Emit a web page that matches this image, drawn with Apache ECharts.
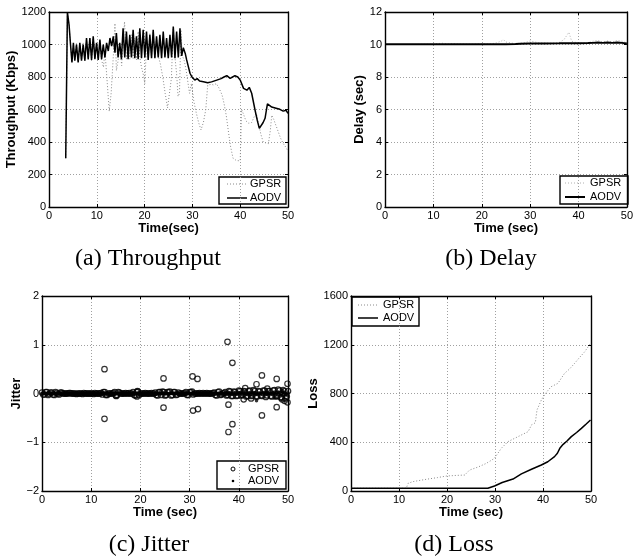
<!DOCTYPE html>
<html>
<head>
<meta charset="utf-8">
<script src="https://cdn.jsdelivr.net/npm/echarts@6/dist/echarts.min.js"></script>
<style>
  html, body { margin: 0; padding: 0; background: #fff; }
  #chart { width: 636px; height: 559px; }
</style>
</head>
<body>
<div id="chart"></div>
<script>
// ---------- (a) Throughput, Kbps ----------
const thrGpsrTime = [3.5,3.85,4.2,4.5,4.8,5.1,5.4,5.75,6.1,6.45,6.8,7.15,7.5,7.85,8.2,8.55,8.9,9.25,9.6,9.95,10.3,10.65,11.0,11.4,11.7,12.1,12.6,13.0,13.4,13.8,14.1,14.45,14.8,15.2,15.8,16.2,16.55,16.9,17.25,17.6,17.95,18.3,18.65,19.0,19.35,19.7,20.05,20.4,20.75,21.1,21.45,21.8,22.15,22.5,22.85,23.3,23.8,24.3,24.8,25.2,25.6,26.0,26.35,26.7,27.0,27.3,27.6,27.9,28.3,28.7,29.0,29.4,29.8,30.3,30.8,31.3,31.8,32.3,32.8,33.2,33.6,34.0,34.5,35.0,35.6,36.2,36.6,37.1,37.6,38.0,38.5,39.0,39.5,40.0,40.3,40.7,41.2,41.8,42.4,43.0,43.4,43.8,44.3,44.8,45.3,45.9,46.3,46.6,47.0,47.5,48.0,48.5,49.0,49.5,50.0];
const thrGpsrValue = [300,1200,1120,1000,890,1000,905,1010,895,1000,905,1010,900,1030,905,1040,900,1040,915,1000,910,1020,905,860,960,800,590,700,900,1130,840,900,1000,870,1140,910,1000,910,1060,915,1040,905,1080,920,860,820,760,1000,920,1070,920,1080,915,1040,930,880,800,700,610,700,790,1100,920,820,680,700,1090,930,900,840,780,700,760,650,580,520,475,520,600,750,745,755,750,760,730,690,640,560,450,370,300,290,285,285,600,570,530,515,520,560,575,520,450,400,395,390,470,565,540,500,460,420,390,370,345];
const thrAodvTime = [3.5,3.85,4.2,4.5,4.8,5.1,5.4,5.75,6.1,6.45,6.8,7.15,7.5,7.85,8.2,8.55,8.9,9.25,9.6,9.95,10.3,10.65,11.0,11.35,11.7,12.05,12.4,12.75,13.1,13.45,13.8,14.1,14.45,14.8,15.15,15.5,15.85,16.2,16.55,16.9,17.25,17.6,17.95,18.3,18.65,19.0,19.35,19.7,20.05,20.4,20.75,21.1,21.45,21.8,22.15,22.5,22.85,23.2,23.55,23.9,24.25,24.6,24.95,25.3,25.65,26.0,26.35,26.7,27.05,27.4,27.75,28.1,28.5,28.8,29.1,29.5,29.9,30.5,31.0,31.5,32.3,33.2,34.0,35.1,36.0,36.6,37.2,37.9,38.4,38.9,39.5,40.0,40.7,41.4,41.9,42.4,43.1,43.6,44.0,44.4,44.8,45.2,45.5,45.7,46.0,46.6,47.5,48.3,49.0,49.6,50.0];
const thrAodvValue = [300,1200,1120,1000,890,1010,900,1000,890,1010,900,1000,900,1040,910,1040,905,1050,910,1010,905,1030,910,1000,920,1010,960,1040,990,1050,950,1070,920,1010,910,1100,920,1080,910,1060,920,1090,915,1050,910,1100,915,1090,920,1080,905,1060,915,1090,915,1050,920,1060,915,1080,920,1040,915,1060,920,1110,915,1080,920,1100,930,980,945,905,870,823,800,781,790,775,771,765,770,781,790,800,808,792,800,808,800,781,730,719,736,700,597,530,484,495,520,546,600,634,625,615,608,601,590,595,576];

// ---------- (b) Delay, sec ----------
const delayGpsrTime = [0,5,10,11,12,13,14,15,18,20,22,23,24,24.5,25,26,27,28,29,30,31,32,33,34,35,36,37,38,38.6,39,40,41,42,43,44,45,46,47,48,49,50];
const delayGpsrValue = [10.0,10.0,10.02,10.06,10.08,10.03,10.06,10.04,10.02,10.05,10.04,10.1,10.2,10.3,10.15,10.1,10.05,10.08,10.12,10.22,10.15,10.1,10.12,10.08,10.1,10.12,10.3,10.75,10.2,10.1,10.08,10.1,10.12,10.2,10.25,10.15,10.22,10.15,10.25,10.2,10.1];
const delayAodvTime = [0,5,10,15,20,25,27,28,30,33,36,38,40,42,43,44,45,46,47,48,49,50];
const delayAodvValue = [10.02,10.02,10.02,10.02,10.02,10.02,10.03,10.05,10.06,10.06,10.07,10.08,10.08,10.09,10.1,10.12,10.1,10.12,10.1,10.13,10.1,10.06];

// ---------- (c) Jitter ----------
const jitterTime = [0,0.5,1,1.5,2,2.5,3,3.5,4,4.5,5,5.5,6,6.5,7,7.5,8,8.5,9,9.5,10,10.5,11,11.5,12,12.5,13,13.5,14,14.5,15,15.5,16,16.5,17,17.5,18,18.5,19,19.5,20,20.5,21,21.5,22,22.5,23,23.5,24,24.5,25,25.5,26,26.5,27,27.5,28,28.5,29,29.5,30,30.5,31,31.5,32,32.5,33,33.5,34,34.5,35,35.5,36,36.5,37,37.5,38,38.5,39,39.5,40,40.5,41,41.5,42,42.5,43,43.5,44,44.5,45,45.5,46,46.5,47,47.5,48,48.5,49,49.5,50];
const jitterTimeMid = [0.25,0.75,1.25,1.75,2.25,2.75,3.25,3.75,4.25,4.75,5.25,5.75,6.25,6.75,7.25,7.75,8.25,8.75,9.25,9.75,10.25,10.75,11.25,11.75,12.25,12.75,13.25,13.75,14.25,14.75,15.25,15.75,16.25,16.75,17.25,17.75,18.25,18.75,19.25,19.75,20.25,20.75,21.25,21.75,22.25,22.75,23.25,23.75,24.25,24.75,25.25,25.75,26.25,26.75,27.25,27.75,28.25,28.75,29.25,29.75,30.25,30.75,31.25,31.75,32.25,32.75,33.25,33.75,34.25,34.75,35.25,35.75,36.25,36.75,37.25,37.75,38.25,38.75,39.25,39.75,40.25,40.75,41.25,41.75,42.25,42.75,43.25,43.75,44.25,44.75,45.25,45.75,46.25,46.75,47.25,47.75,48.25,48.75,49.25,49.75];
const jitterGpsr = [0.02,-0.02,0.03,-0.01,0.02,-0.03,0.01,-0.02,0.02,0,0,0.01,0,0,-0.01,0,0,0.01,0,0,0,-0.01,0,0,0.01,0.03,-0.03,0,0,0.01,-0.04,0.03,0,0,0.01,0,0,0.03,-0.04,0.04,0,0,0.01,0,0,0,0.02,-0.04,0.03,0.04,-0.04,0.03,0.04,-0.03,0.03,-0.02,0,0,0.01,-0.03,0.03,0.04,0,0,0.01,0,0,0.01,0,0,0.02,-0.04,0.04,-0.02,0.01,-0.04,0.05,-0.05,0.04,-0.05,0.06,-0.04,0.05,-0.06,0.05,-0.05,0.07,-0.06,0.05,-0.04,0.06,-0.07,0.05,-0.05,0.06,-0.06,0.08,-0.08,0.07,-0.1,0.05];
const jitterGpsrMid = [-0.02,0.03,-0.03,0.02,-0.02,0.03,-0.01,0.02,0,0,0,0.01,0,0,0,0,-0.01,0,0,0,0,0.01,0,0,-0.02,0.03,-0.03,0,0,0.03,-0.03,0.02,0,0,0,0.01,0,-0.03,0.03,-0.03,0,0,0,0,0.01,0,-0.03,0.03,-0.03,0.03,-0.03,0.03,-0.04,0.03,-0.03,0.02,0,0,0.03,-0.03,0.03,-0.02,0,0,0,0.01,0,0,0,0.01,-0.03,0.03,-0.03,0,0.03,-0.03,0.04,-0.05,0.03,-0.04,0.05,-0.03,0.04,-0.05,0.06,-0.04,0.05,-0.06,0.04,-0.05,0.06,-0.04,0.05,-0.06,0.07,-0.05,0.06,-0.08,0.05,-0.06];
const jitterAodv = [0,0.01,0,-0.01,0,0.01,0,0,-0.01,0,0,0,0,0,0,0,0,0,0,0,0,0,0,0,0,0.01,0,0,0,0,-0.01,0,0,0,0,0,0,0.01,-0.01,0,0,0,0,0,0,0,0.01,-0.01,0,0.01,-0.01,0,0.01,0,0,0,0,0,0,-0.01,0.01,0,0,0,0,0,0,0,0,0,0,-0.01,0.01,0,0,-0.01,0.02,-0.02,0.01,-0.02,0.02,-0.01,0.02,-0.02,0.01,-0.02,0.02,-0.02,0.01,-0.01,0.02,-0.02,0.01,-0.01,0.02,-0.02,0.03,-0.03,0.02,-0.03,0.01];
const jitterAodvMid = [0,-0.01,0.01,0,0,-0.01,0.01,0,0,0,0,0,0,0,0,0,0,0,0,0,0,0,0,0,0,0.01,0,0,0,0.01,0,0,0,0,0,0,0,-0.01,0.01,0,0,0,0,0,0,0,-0.01,0.01,0,0.01,0,-0.01,0,0.01,0,0,0,0,0.01,0,-0.01,0,0,0,0,0,0,0,0,0,0.01,-0.01,0,0,0.02,-0.02,0.01,-0.02,0.02,-0.01,0.02,-0.02,0.01,-0.02,0.02,-0.01,0.02,-0.02,0.01,-0.02,0.02,-0.02,0.01,-0.02,0.03,-0.02,0.02,-0.03,0.02,-0.02];
const jitterGpsrOutTime = [12.7,12.7,24.7,24.7,30.6,31.6,30.7,31.7,37.7,38.7,37.9,38.7,37.9,44.7,43.6,41.3,44.7,47.7,47.7,49.9,49.9,48.8,49.3,15.1,19.3,19.4,41.0,45.8,42.5];
const jitterGpsrOutValue = [0.50,-0.52,0.31,-0.29,0.35,0.30,-0.35,-0.32,1.06,0.63,-0.23,-0.63,-0.79,0.37,0.19,0.11,-0.45,0.30,-0.28,0.20,-0.18,-0.12,-0.15,-0.05,-0.06,0.05,-0.12,0.10,-0.10];
const jitterAodvOutTime = [43.6,47.4,48.9];
const jitterAodvOutValue = [-0.15,-0.08,0.06];

// ---------- (d) Loss ----------
const lossGpsrTime = [0,5,11.5,11.9,12.9,14.5,16,18,19.9,22,23.7,24.7,26.5,28.2,29.9,31.3,32.7,34.8,36.9,37.6,38.4,38.75,39.65,40.5,41.7,43.1,44.5,45.5,46.6,47.6,48.7,49.9,50];
const lossGpsrValue = [22,22,22,63,77,88,98,110,123,128,131,172,197,227,268,350,405,446,487,542,560,665,746,800,856,883,966,1000,1048,1095,1143,1212,1215];
const lossAodvTime = [0,10,20,28.5,29.9,31.5,33.75,35.5,37.6,39.65,41,42.4,43,43.5,44.2,45,45.9,47,48,49,49.9,50];
const lossAodvValue = [22,22,22,22,41,70,98,140,178,213,240,282,310,350,383,410,446,480,514,550,583,585];

// ---------- tick settings ----------
const timeTicks = { min: 0, max: 50, interval: 10 };
const thrTicks = { min: 0, max: 1200, interval: 200 };
const delayTicks = { min: 0, max: 12, interval: 2 };
const jitterTicks = { min: -2, max: 2, interval: 1 };
const lossTicks = { min: 0, max: 1600, interval: 400 };

const SANS = '"Liberation Sans", Arial, Helvetica, sans-serif';
const SERIF = '"Liberation Serif", "Times New Roman", serif';

const zip = (xs, ys) => xs.map((x, i) => [x, ys[i]]);
const fmtNum = v => (v < 0 ? '\u2212' + Math.abs(v) : String(v));

const frameLine = { onZero: false, lineStyle: { color: '#000', width: 1.4 } };
const innerTick = { inside: true, length: 3, lineStyle: { color: '#000', width: 1 } };
const gridDots = { show: true, lineStyle: { color: '#a0a0a0', width: 1, type: [1, 2] } };
const axisNameStyle = { fontFamily: SANS, fontSize: 13, fontWeight: 'bold', color: '#000' };
const tickLabel = { fontFamily: SANS, fontSize: 11, color: '#000', formatter: fmtNum };

function xPair(grid, name) {
  return [
    Object.assign({ type: 'value', gridIndex: grid, position: 'bottom', name: name,
      nameLocation: 'middle', nameGap: 13, nameTextStyle: axisNameStyle,
      axisLine: frameLine, axisTick: innerTick,
      axisLabel: Object.assign({ margin: 3 }, tickLabel), splitLine: gridDots }, timeTicks),
    Object.assign({ type: 'value', gridIndex: grid, position: 'top',
      axisLine: frameLine, axisTick: innerTick, axisLabel: { show: false }, splitLine: { show: false } }, timeTicks)
  ];
}
function yPair(grid, name, ticks, gap) {
  return [
    Object.assign({ type: 'value', gridIndex: grid, position: 'left', name: name,
      nameLocation: 'middle', nameGap: gap, nameRotate: 90, nameTextStyle: axisNameStyle,
      axisLine: frameLine, axisTick: innerTick,
      axisLabel: Object.assign({ margin: 3 }, tickLabel), splitLine: gridDots }, ticks),
    Object.assign({ type: 'value', gridIndex: grid, position: 'right',
      axisLine: frameLine, axisTick: innerTick, axisLabel: { show: false }, splitLine: { show: false } }, ticks)
  ];
}

function dottedLine(name, ax, data, color) {
  return { name: name, type: 'line', xAxisIndex: ax, yAxisIndex: ax, data: data,
    symbol: 'none', lineStyle: { color: color, width: 1, type: [1, 2] }, z: 2 };
}
function solidLine(name, ax, data, width) {
  return { name: name, type: 'line', xAxisIndex: ax, yAxisIndex: ax, data: data,
    symbol: 'none', lineStyle: { color: '#000', width: width }, z: 3 };
}

// legend box drawn as graphic group
function legendBox(x, y, w, h, rows) {
  const children = [{ type: 'rect', shape: { x: 0, y: 0, width: w, height: h },
    style: { fill: '#fff', stroke: '#000', lineWidth: 1.4 } }];
  rows.forEach(r => {
    if (r.kind === 'dotted') {
      children.push({ type: 'line', shape: { x1: r.x1, y1: r.y, x2: r.x2, y2: r.y },
        style: { stroke: r.color, lineWidth: 1, lineDash: [1, 2] } });
    } else if (r.kind === 'solid') {
      children.push({ type: 'line', shape: { x1: r.x1, y1: r.y, x2: r.x2, y2: r.y },
        style: { stroke: '#000', lineWidth: r.width } });
    } else if (r.kind === 'ring') {
      children.push({ type: 'circle', shape: { cx: r.cx, cy: r.y, r: 2 },
        style: { fill: 'none', stroke: '#000', lineWidth: 1 } });
    } else if (r.kind === 'dot') {
      children.push({ type: 'circle', shape: { cx: r.cx, cy: r.y, r: 1.3 },
        style: { fill: '#000' } });
    }
    children.push({ type: 'text', x: r.tx, y: r.y,
      style: { text: r.label, fontFamily: SANS, fontSize: 11, fill: '#000', verticalAlign: 'middle' } });
  });
  return { type: 'group', x: x, y: y, z: 100, children: children };
}
function caption(text, cx, cy) {
  return { type: 'text', x: cx, y: cy, z: 100,
    style: { text: text, fontFamily: SERIF, fontSize: 24, fill: '#000', align: 'center', verticalAlign: 'middle' } };
}

const option = {
  animation: false,
  backgroundColor: '#fff',
  grid: [
    { left: 49, top: 12, width: 239, height: 195 },
    { left: 385, top: 12, width: 246, height: 195 },
    { left: 42, top: 296, width: 246, height: 195 },
    { left: 351, top: 296, width: 240, height: 195 }
  ],
  xAxis: [].concat(xPair(0, 'Time(sec)'), xPair(1, 'Time (sec)'), xPair(2, 'Time (sec)'), xPair(3, 'Time (sec)')),
  yAxis: [].concat(
    yPair(0, 'Throughput (Kbps)', thrTicks, 27),
    yPair(1, 'Delay (sec)', delayTicks, 17),
    yPair(2, 'Jitter', jitterTicks, 15),
    yPair(3, 'Loss', lossTicks, 28)
  ),
  series: [
    dottedLine('GPSR', 0, zip(thrGpsrTime, thrGpsrValue), '#8a8a8a'),
    solidLine('AODV', 0, zip(thrAodvTime, thrAodvValue), 1.5),
    dottedLine('GPSR', 2, zip(delayGpsrTime, delayGpsrValue), '#b0b0b0'),
    solidLine('AODV', 2, zip(delayAodvTime, delayAodvValue), 2),
    { name: 'GPSR', type: 'scatter', xAxisIndex: 4, yAxisIndex: 4,
      data: zip(jitterTime, jitterGpsr)
        .concat(zip(jitterTimeMid, jitterGpsrMid))
        .concat(zip(jitterGpsrOutTime, jitterGpsrOutValue)),
      symbol: 'circle', symbolSize: 5.5,
      itemStyle: { color: 'rgba(0,0,0,0)', borderColor: '#000', borderWidth: 1.2 }, z: 2 },
    { name: 'AODV', type: 'scatter', xAxisIndex: 4, yAxisIndex: 4,
      data: zip(jitterTime, jitterAodv)
        .concat(zip(jitterTimeMid, jitterAodvMid))
        .concat(zip(jitterAodvOutTime, jitterAodvOutValue)),
      symbol: 'circle', symbolSize: 3.5, itemStyle: { color: '#000' }, z: 3 },
    dottedLine('GPSR', 6, zip(lossGpsrTime, lossGpsrValue), '#8a8a8a'),
    solidLine('AODV', 6, zip(lossAodvTime, lossAodvValue), 1.5)
  ],
  graphic: [
    legendBox(219, 177, 67, 27, [
      { kind: 'dotted', x1: 8, x2: 28, y: 7, color: '#8a8a8a', tx: 31, label: 'GPSR' },
      { kind: 'solid', x1: 8, x2: 28, y: 21, width: 1.5, tx: 31, label: 'AODV' }
    ]),
    legendBox(560, 176, 68, 28, [
      { kind: 'dotted', x1: 5, x2: 25, y: 7, color: '#b0b0b0', tx: 30, label: 'GPSR' },
      { kind: 'solid', x1: 5, x2: 25, y: 21, width: 2, tx: 30, label: 'AODV' }
    ]),
    legendBox(217, 461, 69, 28, [
      { kind: 'ring', cx: 16, y: 8, tx: 31, label: 'GPSR' },
      { kind: 'dot', cx: 16, y: 20, tx: 31, label: 'AODV' }
    ]),
    legendBox(352, 297, 67, 29, [
      { kind: 'dotted', x1: 6, x2: 26, y: 8, color: '#8a8a8a', tx: 31, label: 'GPSR' },
      { kind: 'solid', x1: 6, x2: 26, y: 21, width: 1.5, tx: 31, label: 'AODV' }
    ]),
    caption('(a) Throughput', 148, 259),
    caption('(b) Delay', 491, 259),
    caption('(c) Jitter', 149, 545),
    caption('(d) Loss', 454, 545)
  ]
};

const chart = echarts.init(document.getElementById('chart'), null, { renderer: 'canvas' });
chart.setOption(option);
</script>
</body>
</html>
